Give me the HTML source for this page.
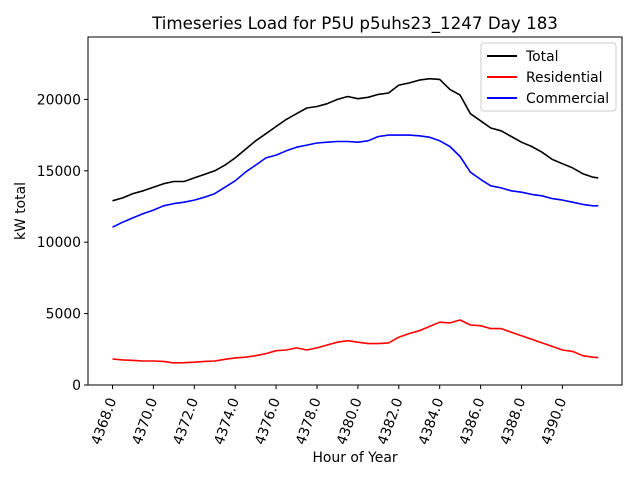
<!DOCTYPE html>
<html><head><meta charset="utf-8"><style>
body{margin:0;background:#fff}
svg{display:block;font-family:"DejaVu Sans","Liberation Sans",sans-serif}
</style></head><body>
<svg id="chart" width="640" height="480" viewBox="0 0 640 480">
<rect x="0" y="0" width="640" height="480" fill="#fff"/>
<text x="355" y="29" font-size="16.7" text-anchor="middle">Timeseries Load for P5U p5uhs23_1247  Day 183</text>
<g id="plot"></g>
</svg>
<script>
const hours=[4368,4368.5,4369,4369.5,4370,4370.5,4371,4371.5,4372,4372.5,4373,4373.5,4374,4374.5,4375,4375.5,4376,4376.5,4377,4377.5,4378,4378.5,4379,4379.5,4380,4380.5,4381,4381.5,4382,4382.5,4383,4383.5,4384,4384.5,4385,4385.5,4386,4386.5,4387,4387.5,4388,4388.5,4389,4389.5,4390,4390.5,4391,4391.5,4391.75];
const total=[12900,13100,13400,13600,13850,14100,14250,14250,14500,14750,15000,15400,15900,16500,17100,17600,18100,18600,19000,19400,19500,19700,20000,20200,20050,20150,20350,20450,21000,21150,21350,21450,21400,20700,20300,19000,18500,18000,17800,17400,17000,16700,16300,15800,15500,15200,14800,14550,14500];
const residential=[1820,1760,1720,1680,1680,1650,1550,1560,1600,1650,1680,1800,1900,1950,2050,2200,2400,2450,2600,2450,2600,2800,3000,3100,3000,2900,2900,2950,3350,3600,3800,4100,4400,4350,4550,4200,4150,3950,3950,3700,3450,3200,2950,2700,2450,2350,2050,1950,1920];
const commercial=[11050,11400,11700,12000,12250,12550,12700,12800,12950,13150,13400,13850,14300,14900,15400,15900,16100,16400,16650,16800,16950,17000,17050,17050,17000,17100,17400,17500,17500,17500,17450,17350,17100,16700,16000,14900,14400,13950,13800,13600,13500,13350,13250,13050,12950,12800,12650,12550,12550];
const xTicks=[4368,4370,4372,4374,4376,4378,4380,4382,4384,4386,4388,4390];
const yTicks=[0,5000,10000,15000,20000];

const L=88,R=622,T=37,B=385;
const FS=13.9;
const xs=h=>112.5+(h-4368)*20.45;
const ys=v=>B-v*(71.4/5000);
const NS="http://www.w3.org/2000/svg";
const g=document.getElementById('plot');
function mk(tag,attrs){const e=document.createElementNS(NS,tag);for(const k in attrs)e.setAttribute(k,attrs[k]);g.appendChild(e);return e;}

const series=[["Total",total,"#000","total-line"],["Residential",residential,"#f00","residential-line"],["Commercial",commercial,"#00f","commercial-line"]];
series.forEach(s=>{
  const p=mk('polyline',{points:hours.map((h,i)=>xs(h).toFixed(1)+","+ys(s[1][i]).toFixed(1)).join(" "),fill:"none",stroke:s[2],"stroke-width":1.6,"stroke-linejoin":"round"});
  
  
});

const frame=mk('rect',{x:L,y:T,width:R-L,height:B-T,fill:"none",stroke:"#000","stroke-width":1});



xTicks.forEach(t=>{
  const x=xs(t);
  const tk=mk('line',{x1:x,x2:x,y1:B,y2:B+4,stroke:"#000"});
  
  
  const tx=mk('text',{x:x+4,y:B+15,"font-size":FS,"text-anchor":"end",transform:`rotate(-70 ${x+4} ${B+15})`});
  tx.textContent=t.toFixed(1);
  
  
});
yTicks.forEach(t=>{
  const y=ys(t);
  const tk=mk('line',{x1:L-4,x2:L,y1:y,y2:y,stroke:"#000"});
  
  
  const tx=mk('text',{x:L-7,y:y+5,"font-size":FS,"text-anchor":"end"});
  tx.textContent=t;
  
  
});
const xl=mk('text',{x:355,y:462,"font-size":FS,"text-anchor":"middle"});
xl.textContent="Hour of Year";


const yl=mk('text',{x:25,y:211,"font-size":FS,"text-anchor":"middle",transform:"rotate(-90 25 211)"});
yl.textContent="kW total";



const lg=mk('rect',{x:481,y:43,width:135,height:68,rx:3,fill:"#fff","fill-opacity":0.8,stroke:"#ccc"});


series.forEach((s,i)=>{
  const y=56+i*21;
  const ln=mk('line',{x1:487,x2:517,y1:y,y2:y,stroke:s[2],"stroke-width":2});
  
  
  const tx=mk('text',{x:526,y:y+5,"font-size":FS});
  tx.textContent=s[0];
  
  
});
</script>
</body></html>
